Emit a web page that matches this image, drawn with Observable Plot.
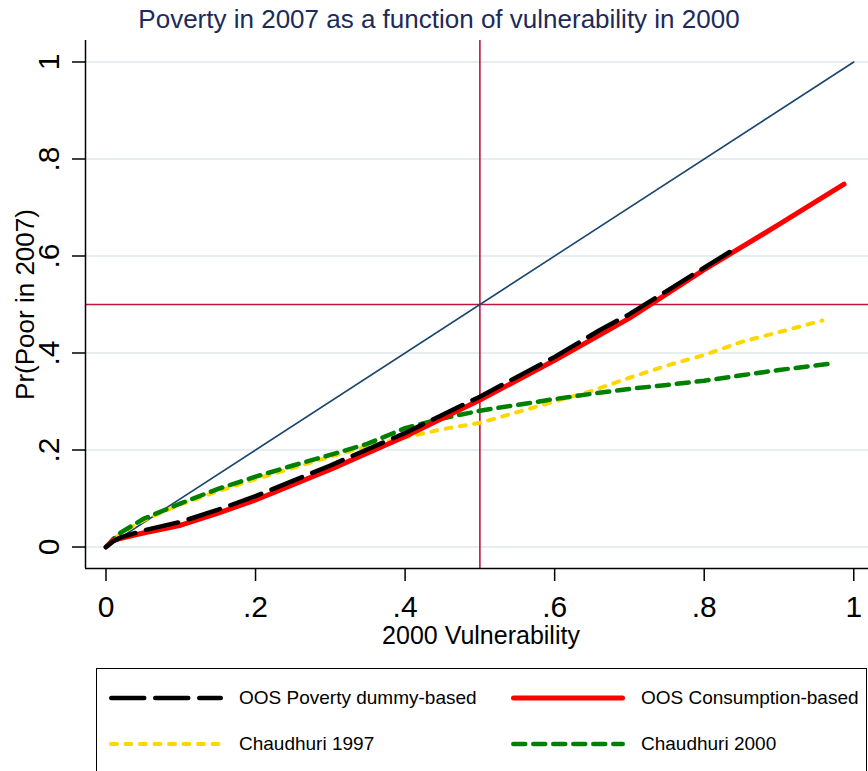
<!DOCTYPE html>
<html>
<head>
<meta charset="utf-8">
<script src="https://cdn.jsdelivr.net/npm/d3@7"></script>
<script src="https://cdn.jsdelivr.net/npm/@observablehq/plot@0.6"></script>
<style>
  body { margin: 0; background: #fff; }
  #wrap { position: relative; width: 868px; height: 771px; overflow: hidden; background: #fff;
          font-family: "Liberation Sans", Arial, sans-serif; }
  #title { position: absolute; top: 4px; left: 10px; width: 858px; text-align: center;
           font-size: 26px; line-height: 30px; color: #1c2b5a; }
  #chart { position: absolute; top: 40px; left: 0; }
  #legend { position: absolute; left: 96px; top: 668px; width: 771px; height: 130px;
            border: 1px solid #000; box-sizing: border-box; }
  .lg-item { position: absolute; height: 30px; }
  .lg-item svg { position: absolute; left: 0; top: 0; }
  .lg-item span { position: absolute; top: 0; line-height: 30px; font-size: 19px; color: #000; white-space: nowrap; }
</style>
</head>
<body>
<div id="wrap">
  <div id="title">Poverty in 2007 as a function of vulnerability in 2000</div>
  <div id="chart"></div>
  <div id="legend"></div>
</div>
<script>
// ---- data ----
const xTicks = [0, 0.2, 0.4, 0.6, 0.8, 1];
const xTickLabels = ["0", ".2", ".4", ".6", ".8", "1"];
const yTicks = [0, 0.2, 0.4, 0.6, 0.8, 1];
const yTickLabels = ["0", ".2", ".4", ".6", ".8", "1"];

const seriesNames = ["OOS Poverty dummy-based", "OOS Consumption-based", "Chaudhuri 1997", "Chaudhuri 2000"];

const xBlack = [0, 0.01, 0.02, 0.05, 0.1, 0.15, 0.2, 0.3, 0.4, 0.5, 0.6, 0.66, 0.7, 0.8, 0.84];
const yBlack = [0, 0.012, 0.02, 0.034, 0.052, 0.077, 0.105, 0.168, 0.235, 0.31, 0.392, 0.447, 0.48, 0.576, 0.614];

const xRed = [0, 0.01, 0.02, 0.05, 0.1, 0.15, 0.2, 0.3, 0.4, 0.5, 0.6, 0.66, 0.7, 0.8, 0.9, 0.987];
const yRed = [0, 0.014, 0.018, 0.029, 0.045, 0.07, 0.097, 0.16, 0.228, 0.303, 0.385, 0.437, 0.472, 0.572, 0.665, 0.748];

const xYellow = [0, 0.01, 0.02, 0.05, 0.1, 0.15, 0.2, 0.25, 0.3, 0.35, 0.4, 0.45, 0.5, 0.55, 0.6, 0.65, 0.7, 0.75, 0.8, 0.85, 0.9, 0.958];
const yYellow = [0, 0.015, 0.028, 0.055, 0.088, 0.115, 0.14, 0.163, 0.186, 0.208, 0.226, 0.243, 0.256, 0.278, 0.30, 0.322, 0.349, 0.374, 0.396, 0.423, 0.443, 0.467];

const xGreen = [0, 0.01, 0.02, 0.05, 0.1, 0.15, 0.2, 0.25, 0.3, 0.35, 0.4, 0.45, 0.5, 0.55, 0.6, 0.65, 0.7, 0.75, 0.8, 0.85, 0.9, 0.973];
const yGreen = [0, 0.017, 0.03, 0.058, 0.09, 0.12, 0.145, 0.168, 0.19, 0.213, 0.245, 0.265, 0.281, 0.293, 0.305, 0.316, 0.326, 0.334, 0.343, 0.354, 0.365, 0.379];

const xDiag = [0, 1];
const yDiag = [0, 1];
const refX = [0.5];
const refY = [0.5];

// ---- layout / styling ----
const xDomain = [-0.0274, 1.0197];
const yDomain = [-0.0443, 1.0443];
const rows = (xs, ys) => xs.map((x, i) => ({x, y: ys[i]}));

const styles = [
  {color: "#000000", width: 4.5, dash: "33,11"},
  {color: "#ff0000", width: 5, dash: null},
  {color: "#ffd700", width: 4, dash: "6,8.5"},
  {color: "#008000", width: 4.5, dash: "12,8"}
];
const data = [rows(xBlack, yBlack), rows(xRed, yRed), rows(xYellow, yYellow), rows(xGreen, yGreen)];
const drawOrder = [2, 3, 1, 0];

const lineMark = (k) => Plot.line(data[k], {
  x: "x", y: "y", stroke: styles[k].color, strokeWidth: styles[k].width,
  strokeDasharray: styles[k].dash || undefined, strokeLinecap: "round", strokeLinejoin: "round"
});

const refColor = "#c0143c";
const chart = Plot.plot({
  width: 868, height: 620,
  marginLeft: 85, marginRight: 0, marginTop: 0, marginBottom: 92,
  style: {fontFamily: "'Liberation Sans', Arial, sans-serif", background: "white", color: "black"},
  x: {domain: xDomain},
  y: {domain: yDomain},
  marks: [
    Plot.gridY(yTicks, {stroke: "#e6eef0", strokeOpacity: 1, strokeWidth: 2}),
    Plot.ruleX(refX, {stroke: refColor, strokeWidth: 1.6}),
    Plot.ruleY(refY, {stroke: refColor, strokeWidth: 1.6}),
    Plot.line(rows(xDiag, yDiag), {x: "x", y: "y", stroke: "#1a476f", strokeWidth: 1.6}),
    ...drawOrder.map(lineMark),
    Plot.ruleX([xDomain[0]], {stroke: "black", strokeWidth: 1.5}),
    Plot.ruleY([yDomain[0]], {stroke: "black", strokeWidth: 1.5}),
    Plot.axisX({ticks: xTicks, tickFormat: d => xTickLabels[xTicks.indexOf(d)], tickSize: 13, tickPadding: 14,
                fontSize: 30, strokeWidth: 1.5, label: null}),
    Plot.axisY({ticks: yTicks, tickFormat: () => "", tickSize: 13, strokeWidth: 1.5, label: null}),
    Plot.text(yTicks, {x: () => xDomain[0], y: d => d, text: d => yTickLabels[yTicks.indexOf(d)],
                       rotate: -90, textAnchor: "middle", lineAnchor: "bottom", dx: -27, fontSize: 30, fill: "black"}),
    Plot.text(["2000 Vulnerability"], {frameAnchor: "bottom", dy: 67, dx: 4, lineAnchor: "middle", fontSize: 25, fill: "black"}),
    Plot.text(["Pr(Poor in 2007)"], {frameAnchor: "left", dx: -60, rotate: -90, textAnchor: "middle", lineAnchor: "middle", fontSize: 26, fill: "black"})
  ]
});
document.getElementById("chart").appendChild(chart);

// ---- legend ----
const legend = document.getElementById("legend");
const legendPos = [
  {left: 12, top: 14, textLeft: 130},
  {left: 414, top: 14, textLeft: 130},
  {left: 12, top: 60, textLeft: 130},
  {left: 414, top: 60, textLeft: 130}
];
seriesNames.forEach((name, k) => {
  const p = legendPos[k];
  const s = styles[k];
  const item = document.createElement("div");
  item.className = "lg-item";
  item.style.left = p.left + "px";
  item.style.top = p.top + "px";
  item.style.width = "400px";
  const ns = "http://www.w3.org/2000/svg";
  const svg = document.createElementNS(ns, "svg");
  svg.setAttribute("width", "120");
  svg.setAttribute("height", "30");
  const ln = document.createElementNS(ns, "line");
  ln.setAttribute("x1", s.width / 2);
  ln.setAttribute("x2", 114 - s.width / 2);
  ln.setAttribute("y1", 15);
  ln.setAttribute("y2", 15);
  ln.setAttribute("stroke", s.color);
  ln.setAttribute("stroke-width", s.width);
  ln.setAttribute("stroke-linecap", "round");
  if (s.dash) ln.setAttribute("stroke-dasharray", s.dash);
  svg.appendChild(ln);
  item.appendChild(svg);
  const span = document.createElement("span");
  span.textContent = name;
  span.style.left = p.textLeft + "px";
  item.appendChild(span);
  legend.appendChild(item);
});
</script>
</body>
</html>
